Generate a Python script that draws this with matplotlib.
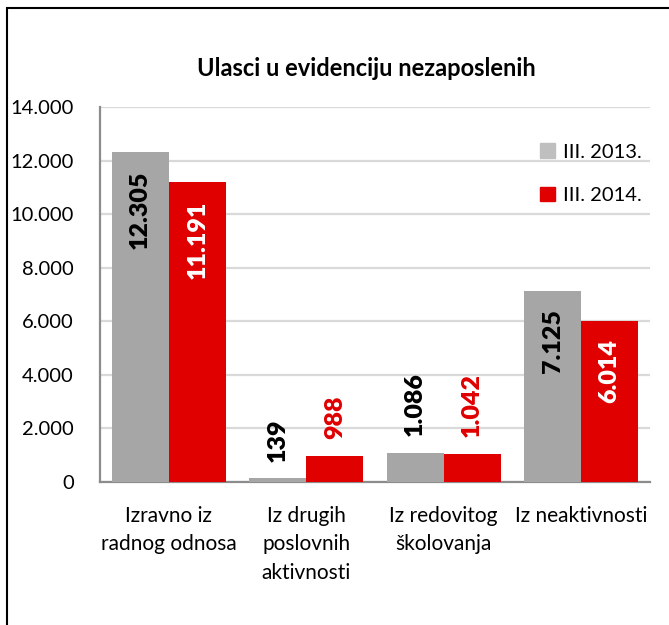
import matplotlib
matplotlib.use("Agg")
import matplotlib.pyplot as plt
from matplotlib.patches import Patch, Rectangle
import numpy as np

plt.rcParams['font.family'] = ['Lato', 'DejaVu Sans']

title = "Ulasci u evidenciju nezaposlenih"
categories = ["Izravno iz\nradnog odnosa", "Iz drugih\nposlovnih\naktivnosti",
              "Iz redovitog\nškolovanja", "Iz neaktivnosti"]
series_names = ["III. 2013.", "III. 2014."]
values_2013 = [12305, 139, 1086, 7125]
values_2014 = [11191, 988, 1042, 6014]
yticks = [0, 2000, 4000, 6000, 8000, 10000, 12000, 14000]
ytick_labels = ["0", "2.000", "4.000", "6.000", "8.000", "10.000", "12.000", "14.000"]

gray = "#A6A6A6"
gray_leg = "#BFBFBF"
red = "#E00000"

fig = plt.figure(figsize=(6.69, 6.25), dpi=100)
ax = fig.add_axes([0.1495, 0.2288, 0.822, 0.60])

x = np.arange(len(categories))
w = 0.415
b1 = ax.bar(x - w/2, values_2013, w, color=gray, zorder=3)
b2 = ax.bar(x + w/2, values_2014, w, color=red, zorder=3)

def fmt(v):
    return f"{v:,}".replace(",", ".")

inside_threshold = 3000
for bars, vals, in_col, out_col in [(b1, values_2013, "black", "black"),
                                    (b2, values_2014, "white", red)]:
    for rect, v in zip(bars, vals):
        cx = rect.get_x() + rect.get_width()/2
        if v > inside_threshold:
            ax.annotate(fmt(v), (cx, v), xytext=(0, -13), textcoords="offset points",
                        rotation=90, ha="center", va="top", fontsize=18,
                        fontweight="heavy", color=in_col, zorder=5)
        else:
            ax.annotate(fmt(v), (cx, v), xytext=(0, 12), textcoords="offset points",
                        rotation=90, ha="center", va="bottom", fontsize=18,
                        fontweight="heavy", color=out_col, zorder=5)

ax.set_ylim(0, 14000)
ax.set_xlim(-0.5, len(categories) - 0.5)
ax.set_yticks(yticks)
ax.set_yticklabels(ytick_labels, fontsize=14.5)
ax.set_xticks(x)
ax.set_xticklabels(categories, fontsize=15, linespacing=1.55, va="top")
ax.tick_params(axis="x", length=0, pad=17)
ax.tick_params(axis="y", length=0, pad=19)
ax.grid(axis="y", color="#D9D9D9", linewidth=1.6, zorder=0)
ax.set_axisbelow(True)
for s in ["top", "right"]:
    ax.spines[s].set_visible(False)
ax.spines["left"].set_color("#8C8C8C")
ax.spines["left"].set_linewidth(1.6)
ax.spines["bottom"].set_color("#8C8C8C")
ax.spines["bottom"].set_linewidth(1.6)

fig.text(366/669, 1 - 68/625, title, ha="center", va="center",
         fontsize=17, fontweight="bold")

handles = [Patch(color=gray_leg), Patch(color=red)]
fig.legend(handles, series_names, loc="upper left",
           bbox_to_anchor=(522/669, 1 - 125/625), frameon=False,
           fontsize=14.5, handlelength=0.75, handleheight=0.75,
           handletextpad=0.4, labelspacing=1.3)

fig.patches.append(Rectangle((7/669, -0.05), 1.1, 1 - 8/625 + 0.05,
                             transform=fig.transFigure, fill=False,
                             edgecolor="black", linewidth=1.5))

fig.savefig("out.png", dpi=100)
